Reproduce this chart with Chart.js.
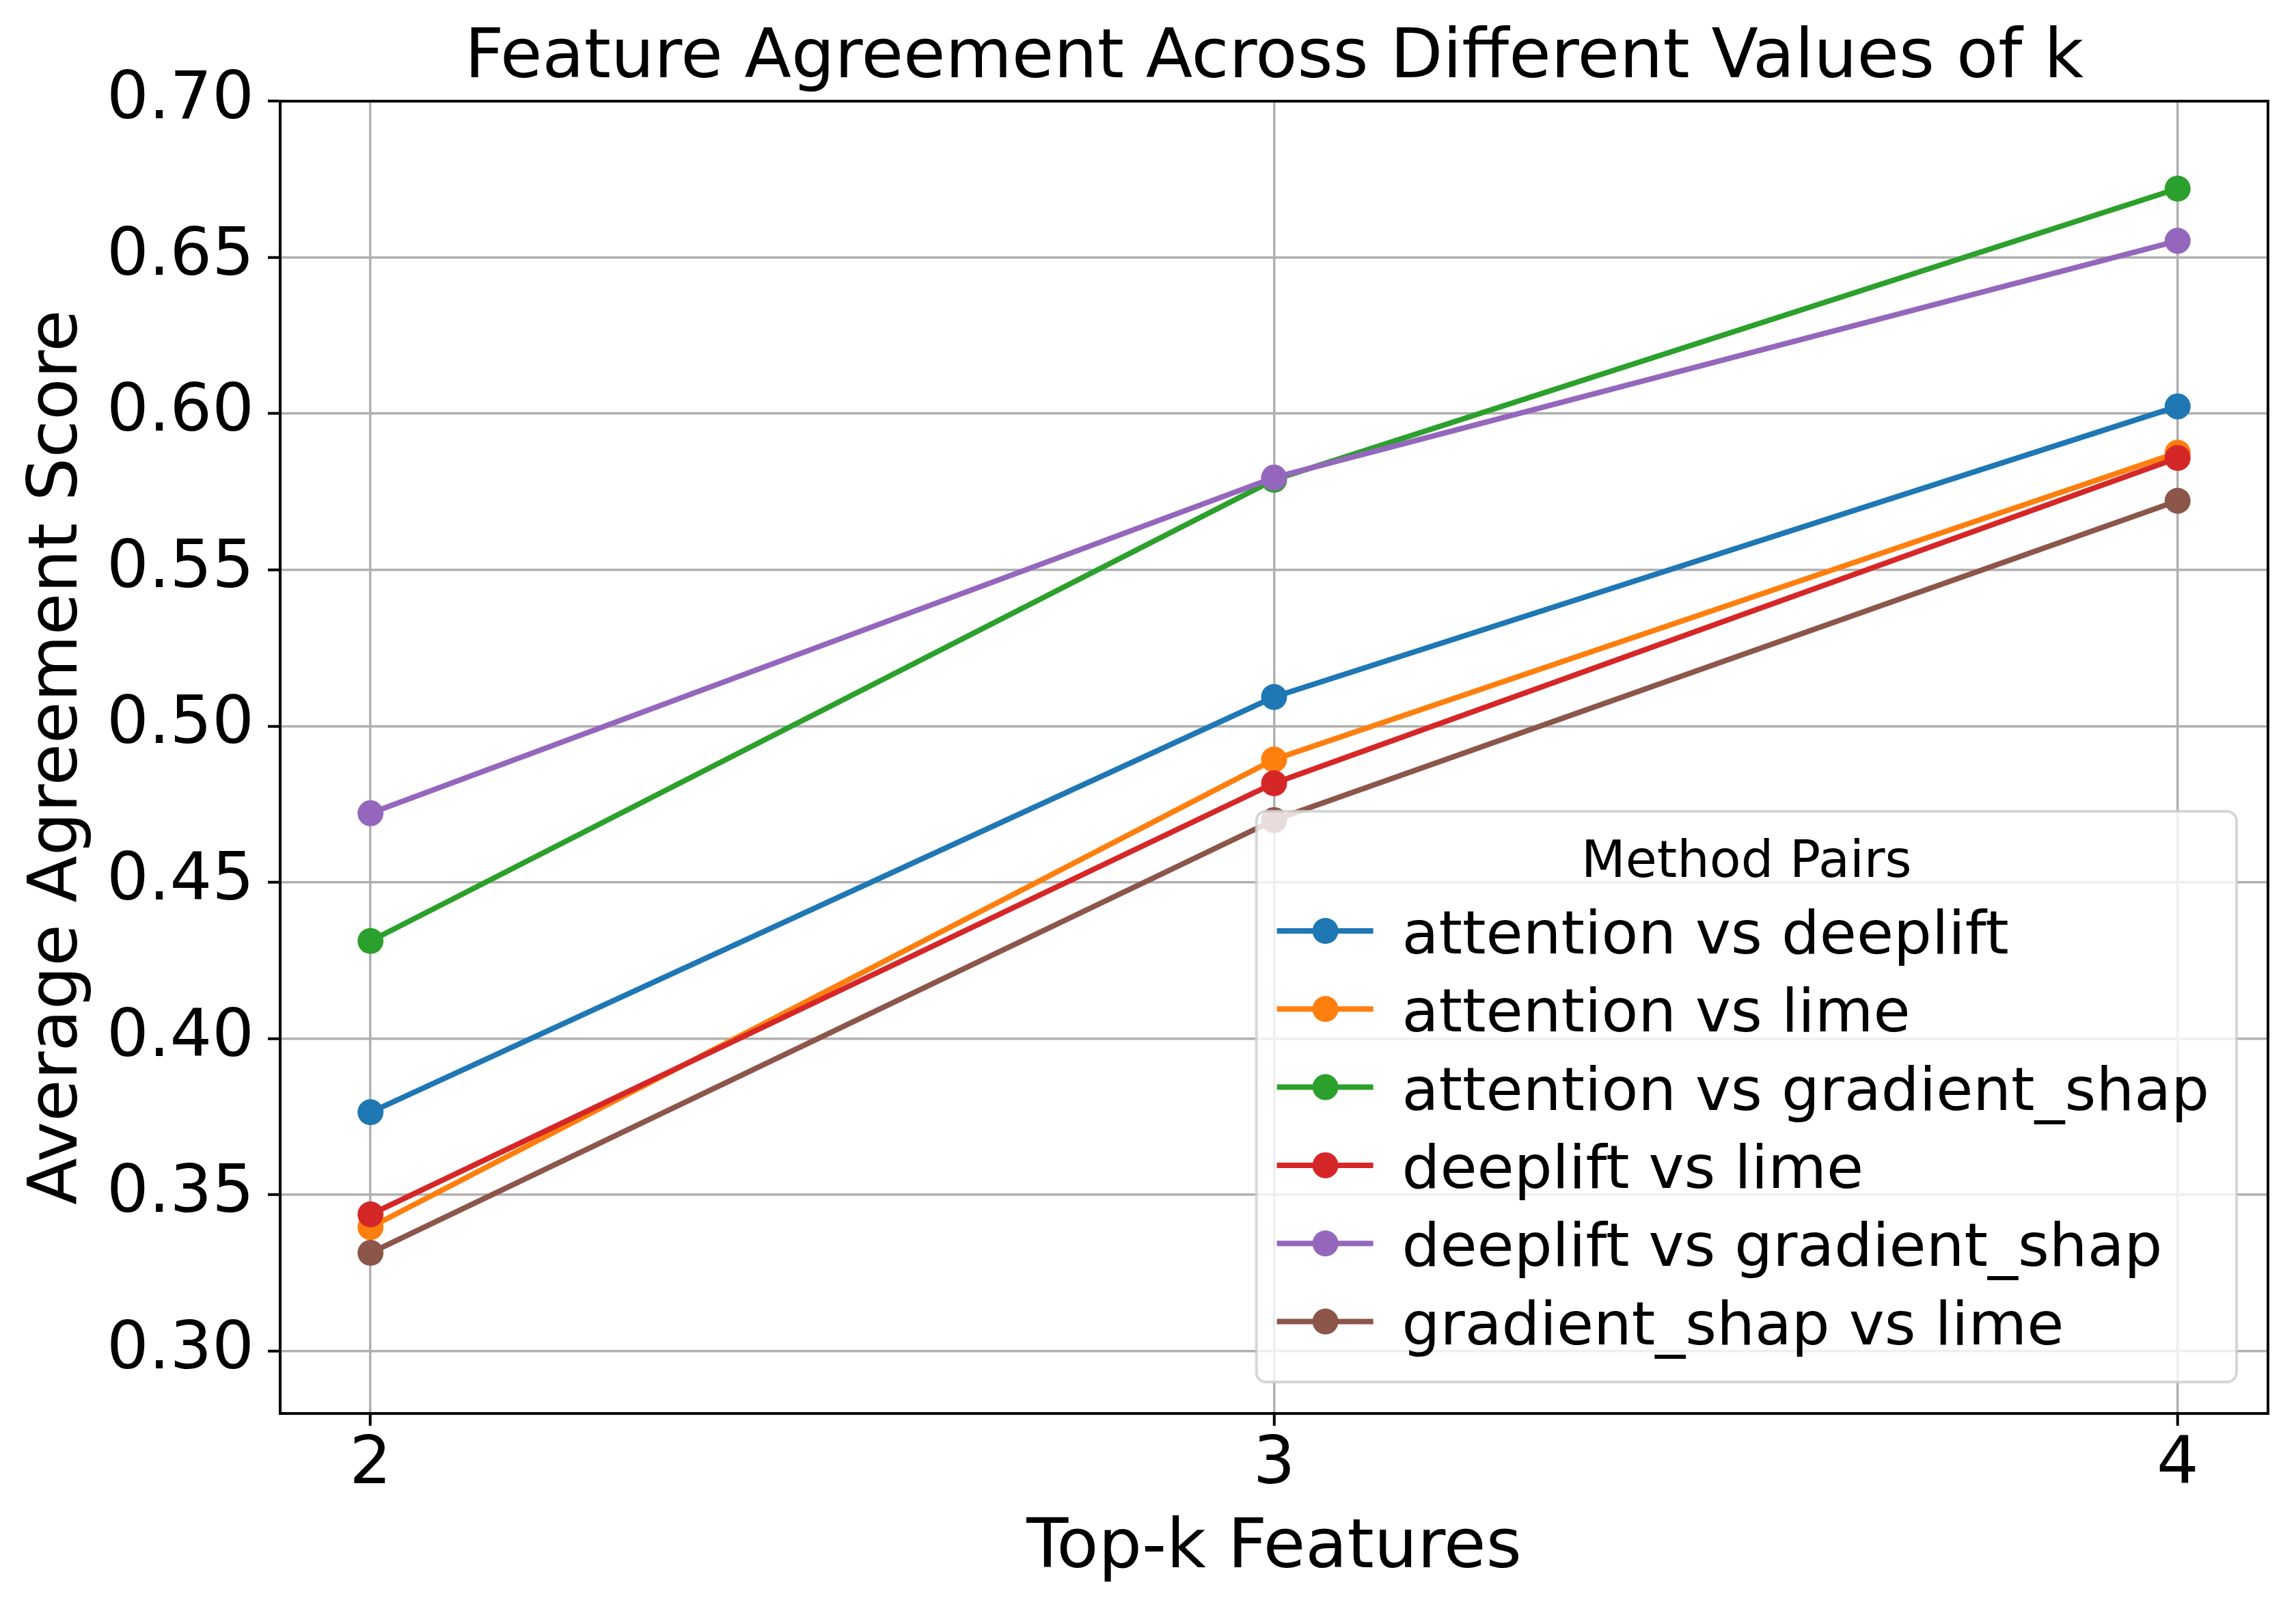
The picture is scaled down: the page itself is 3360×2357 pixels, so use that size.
<!DOCTYPE html>
<html>
<head>
<meta charset="utf-8">
<script src="https://cdn.jsdelivr.net/npm/chart.js@4.4.1/dist/chart.umd.min.js"></script>
<style>
  body { margin: 0; background: #fff; }
  .wrap { width: 3360px; height: 2357px; }
</style>
</head>
<body>
<div class="wrap"><canvas id="chart"></canvas></div>
<script>
// values
const kValues = [2, 3, 4];
const yTicks = [0.30, 0.35, 0.40, 0.45, 0.50, 0.55, 0.60, 0.65, 0.70];

const pairNames = [
    'attention vs deeplift',
    'attention vs lime',
    'attention vs gradient_shap',
    'deeplift vs lime',
    'deeplift vs gradient_shap',
    'gradient_shap vs lime'
];
const attentionDeeplift = [0.3764, 0.5093, 0.6023];
const attentionLime = [0.3396, 0.4893, 0.5875];
const attentionGradShap = [0.4312, 0.5788, 0.6720];
const deepliftLime = [0.3437, 0.4817, 0.5858];
const deepliftGradShap = [0.4721, 0.5795, 0.6553];
const gradShapLime = [0.3314, 0.4699, 0.5721];

const seriesValues = [attentionDeeplift, attentionLime, attentionGradShap, deepliftLime, deepliftGradShap, gradShapLime];
const colors = ['#1f77b4', '#ff7f0e', '#2ca02c', '#d62728', '#9467bd', '#8c564b'];

const FONT = '"DejaVu Sans", sans-serif';
const chartTitle = 'Feature Agreement Across Different Values of k';

// matplotlib style legend drawn inside the plot, lower right
const innerLegend = {
    id: 'innerLegend',
    afterDraw(chart) {
        const { ctx, chartArea } = chart;
        const sets = chart.data.datasets;
        ctx.save();
        ctx.font = '88px ' + FONT;
        let textW = 0;
        sets.forEach(d => { textW = Math.max(textW, ctx.measureText(d.label).width); });
        const boxW = 213 + textW + 40;
        const boxH = 835;
        const x0 = chartArea.right - 46 - boxW;
        const y0 = chartArea.bottom - 46 - boxH;

        ctx.beginPath();
        ctx.roundRect(x0, y0, boxW, boxH, 14);
        ctx.fillStyle = 'rgba(255,255,255,0.8)';
        ctx.fill();
        ctx.lineWidth = 4;
        ctx.strokeStyle = 'rgba(204,204,204,0.8)';
        ctx.stroke();

        ctx.fillStyle = '#000';
        ctx.textAlign = 'center';
        ctx.textBaseline = 'alphabetic';
        ctx.font = '75px ' + FONT;
        ctx.fillText('Method Pairs', x0 + boxW / 2, y0 + 96);

        ctx.font = '88px ' + FONT;
        ctx.textAlign = 'left';
        sets.forEach((d, i) => {
            const y = y0 + 175 + i * 114.3;
            ctx.strokeStyle = d.borderColor;
            ctx.lineWidth = 8;
            ctx.beginPath();
            ctx.moveTo(x0 + 30, y);
            ctx.lineTo(x0 + 171, y);
            ctx.stroke();
            ctx.fillStyle = d.borderColor;
            ctx.beginPath();
            ctx.arc(x0 + 101, y, 19, 0, Math.PI * 2);
            ctx.fill();
            ctx.fillStyle = '#000';
            ctx.fillText(d.label, x0 + 213, y + 33);
        });
        ctx.restore();
    }
};

// top/right spines and the title centred over the plot area
const frame = {
    id: 'frame',
    afterDatasetsDraw(chart) {
        const { ctx, chartArea } = chart;
        ctx.save();
        ctx.strokeStyle = '#000';
        ctx.lineWidth = 4;
        ctx.strokeRect(chartArea.left, chartArea.top, chartArea.right - chartArea.left, chartArea.bottom - chartArea.top);
        ctx.fillStyle = '#000';
        ctx.font = '100px ' + FONT;
        ctx.textAlign = 'center';
        ctx.textBaseline = 'middle';
        ctx.fillText(chartTitle, (chartArea.left + chartArea.right) / 2, 87);
        ctx.restore();
    }
};

const datasets = pairNames.map((name, i) => ({
    label: name,
    data: kValues.map((k, j) => ({ x: k, y: seriesValues[i][j] })),
    borderColor: colors[i],
    backgroundColor: colors[i],
    borderWidth: 8,
    pointRadius: 19,
    pointBorderWidth: 0,
    pointHoverRadius: 19,
    order: pairNames.length - i
}));

new Chart(document.getElementById('chart'), {
    type: 'line',
    data: { datasets: datasets },
    options: {
        responsive: true,
        maintainAspectRatio: false,
        devicePixelRatio: 1,
        animation: false,
        layout: {
            padding: { left: 36, right: 41, top: 148, bottom: 40 }
        },
        scales: {
            x: {
                type: 'linear',
                min: 1.9,
                max: 4.1,
                afterBuildTicks: axis => { axis.ticks = kValues.map(v => ({ value: v })); },
                ticks: {
                    color: '#000',
                    font: { family: FONT, size: 97, lineHeight: 1 },
                    padding: 10,
                    callback: v => String(v)
                },
                grid: {
                    color: '#b0b0b0',
                    lineWidth: 3.5,
                    tickColor: '#000',
                    tickLength: 18,
                    tickWidth: 4
                },
                border: { color: '#000', width: 4 },
                title: {
                    display: true,
                    text: 'Top-k Features',
                    color: '#000',
                    font: { family: FONT, size: 100, lineHeight: 1 },
                    padding: { top: 14, bottom: 0 }
                }
            },
            y: {
                min: 0.28,
                max: 0.70,
                afterBuildTicks: axis => { axis.ticks = yTicks.map(v => ({ value: v })); },
                ticks: {
                    color: '#000',
                    font: { family: FONT, size: 97, lineHeight: 1 },
                    padding: 20,
                    callback: v => v.toFixed(2)
                },
                grid: {
                    color: '#b0b0b0',
                    lineWidth: 3.5,
                    tickColor: '#000',
                    tickLength: 18,
                    tickWidth: 4
                },
                border: { color: '#000', width: 4 },
                title: {
                    display: true,
                    text: 'Average Agreement Score',
                    color: '#000',
                    font: { family: FONT, size: 100, lineHeight: 1 },
                    padding: { top: 0, bottom: 0 }
                }
            }
        },
        plugins: {
            legend: { display: false },
            tooltip: { enabled: false },
            title: { display: false }
        }
    },
    plugins: [frame, innerLegend]
});
</script>
</body>
</html>
